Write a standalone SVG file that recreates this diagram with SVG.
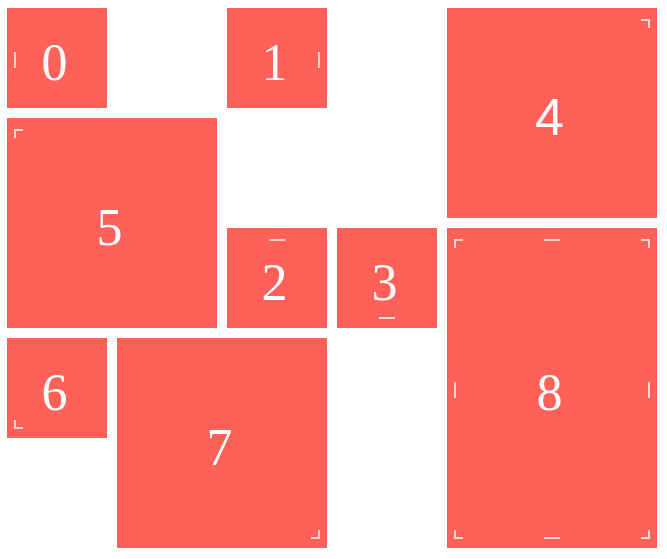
<svg xmlns="http://www.w3.org/2000/svg" width="667" height="559" viewBox="0 0 667 559">
<style>
.box{fill:#ff6058}
.lbl{fill:#fff;font-family:"Liberation Serif","Times New Roman",serif;font-size:52px;text-anchor:middle}
.sans{font-family:"Liberation Sans",Arial,sans-serif}
.mk{fill:none;stroke:#fff;stroke-opacity:0.75;stroke-width:2}
</style>
<rect width="667" height="559" fill="#fff"/>
<g id="node-0">
<rect class="box" x="7" y="8" width="100" height="100"/>
<path class="mk" d="M15,52 V68"/>
<text class="lbl" x="54.5" y="80">0</text>
</g>
<g id="node-1">
<rect class="box" x="227" y="8" width="100" height="100"/>
<path class="mk" d="M319,52 V68"/>
<text class="lbl" x="274.5" y="80">1</text>
</g>
<g id="node-4">
<rect class="box" x="447" y="8" width="210" height="210"/>
<path class="mk" d="M641,20 H649 V28"/>
<text class="lbl sans" x="549.5" y="135">4</text>
</g>
<g id="node-5">
<rect class="box" x="7" y="118" width="210" height="210"/>
<path class="mk" d="M15,138 V130 H23"/>
<text class="lbl" x="109.5" y="245">5</text>
</g>
<g id="node-2">
<rect class="box" x="227" y="228" width="100" height="100"/>
<path class="mk" d="M269,240 H285"/>
<text class="lbl" x="274.5" y="300">2</text>
</g>
<g id="node-3">
<rect class="box" x="337" y="228" width="100" height="100"/>
<path class="mk" d="M379,318 H395"/>
<text class="lbl" x="384.5" y="300">3</text>
</g>
<g id="node-8">
<rect class="box" x="447" y="228" width="210" height="320"/>
<path class="mk" d="M455,248 V240 H463 M641,240 H649 V248 M544,240 H560 M455,382 V398 M649,382 V398 M455,530 V538 H463 M641,538 H649 V530 M544,538 H560"/>
<text class="lbl" x="549.5" y="410">8</text>
</g>
<g id="node-6">
<rect class="box" x="7" y="338" width="100" height="100"/>
<path class="mk" d="M15,420 V428 H23"/>
<text class="lbl" x="54.5" y="410">6</text>
</g>
<g id="node-7">
<rect class="box" x="117" y="338" width="210" height="210"/>
<path class="mk" d="M311,538 H319 V530"/>
<text class="lbl" x="219.5" y="465">7</text>
</g>
<g id="connectors"/>
</svg>
